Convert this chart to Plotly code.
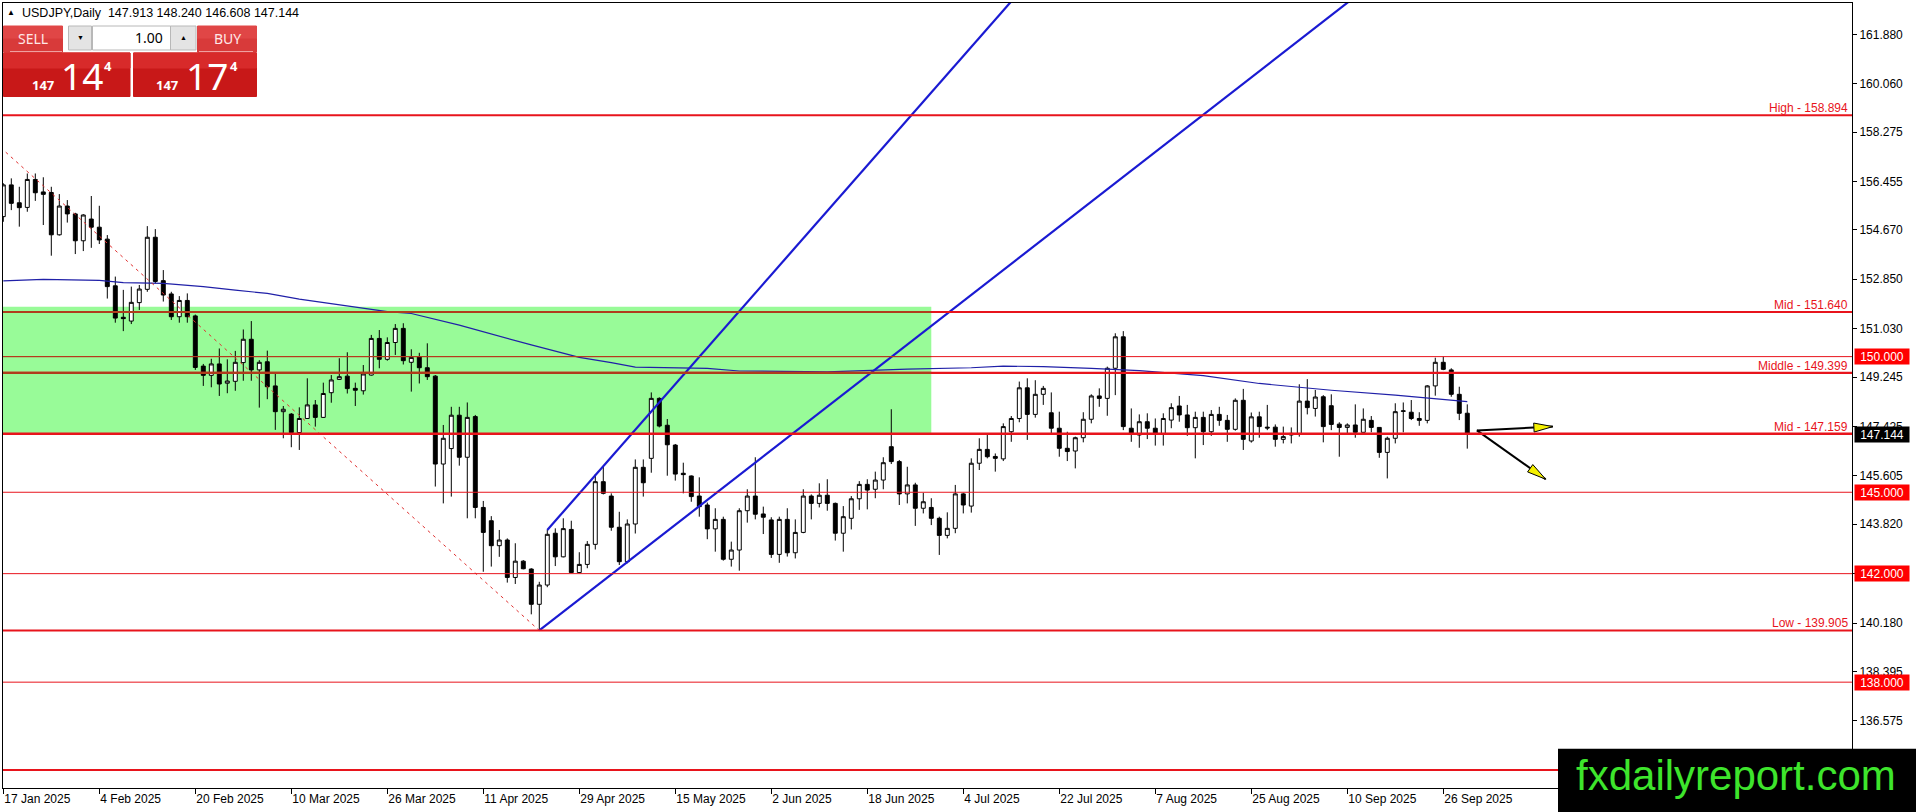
import math
import plotly.graph_objects as go

# ---- daily candles, 17 Jan 2025 .. 1 Oct 2025 (bar index 0..183) ----
opens = [155.16, 156.33, 155.67, 155.50, 156.53, 156.07, 156.05, 154.49, 155.55, 155.26,
         154.27, 155.07, 154.77, 154.33, 152.61, 151.45, 151.31, 151.99, 152.48, 154.40,
         152.80, 152.31, 151.47, 152.07, 151.50, 149.65, 149.31, 149.73, 149.02, 149.09,
         149.78, 150.64, 149.51, 149.81, 148.92, 147.97, 147.88, 147.20, 147.72, 148.22,
         147.76, 148.67, 149.16, 149.28, 148.83, 148.74, 149.32, 150.67, 149.90, 150.52,
         151.04, 149.79, 150.00, 149.59, 149.28, 146.04, 146.61, 147.84, 146.29, 147.79,
         144.44, 143.95, 143.03, 143.24, 141.86, 142.46, 142.17, 140.87, 141.58, 143.49,
         142.62, 143.63, 142.04, 142.34, 143.08, 145.39, 144.86, 143.71, 142.44, 143.83,
         145.92, 146.25, 148.46, 147.47, 146.74, 145.70, 145.60, 144.86, 144.53, 143.65,
         144.00, 142.53, 142.87, 144.32, 144.86, 144.20, 143.98, 142.71, 144.00, 142.77,
         143.52, 144.86, 144.59, 144.89, 144.59, 143.49, 144.04, 144.76, 145.29, 145.11,
         145.45, 146.68, 146.13, 144.94, 145.27, 144.41, 144.44, 144.04, 143.41, 143.67,
         144.94, 144.49, 146.07, 146.58, 146.32, 146.23, 147.23, 147.72, 148.85, 147.87,
         148.61, 147.93, 147.36, 146.62, 146.52, 147.01, 147.69, 148.55, 148.46, 149.57,
         150.73, 147.36, 147.11, 147.60, 147.36, 147.13, 147.66, 148.18, 147.85, 147.38,
         147.76, 147.23, 147.87, 147.65, 147.32, 148.39, 146.89, 147.78, 147.40, 147.40,
         146.95, 147.11, 147.15, 148.36, 148.09, 148.52, 148.19, 147.51, 147.39, 147.48,
         147.21, 147.65, 147.39, 146.47, 146.99, 147.98, 147.95, 147.72, 147.65, 148.92,
         149.79, 149.51, 148.61, 147.913]
highs = [156.39, 156.57, 156.26, 156.75, 156.75, 156.61, 156.26, 155.99, 155.77, 155.30,
         155.25, 155.92, 155.56, 154.48, 152.95, 152.46, 152.58, 152.64, 154.81, 154.70,
         153.19, 152.39, 152.23, 152.33, 151.55, 149.73, 149.92, 150.30, 149.90, 150.21,
         151.00, 151.31, 149.87, 150.22, 149.38, 148.18, 147.92, 148.13, 149.20, 148.40,
         149.04, 149.32, 149.94, 150.16, 149.04, 149.69, 150.80, 150.98, 150.71, 151.20,
         151.23, 150.27, 150.14, 150.49, 149.32, 147.48, 148.15, 148.15, 148.31, 147.85,
         144.68, 144.12, 143.61, 143.30, 143.12, 142.50, 142.20, 141.70, 143.61, 143.67,
         144.04, 143.95, 142.79, 143.20, 145.67, 145.94, 144.96, 144.28, 144.00, 146.21,
         146.21, 148.68, 148.50, 147.70, 146.78, 146.09, 145.62, 145.55, 144.62, 144.41,
         144.10, 143.18, 144.41, 145.11, 146.29, 144.47, 144.08, 144.10, 144.41, 144.00,
         145.11, 144.92, 145.33, 145.48, 144.62, 144.49, 144.86, 145.41, 145.48, 145.76,
         146.29, 148.06, 146.19, 145.94, 145.35, 144.98, 144.78, 144.10, 144.26, 145.27,
         144.98, 146.25, 146.99, 147.17, 146.43, 147.54, 147.81, 149.08, 149.20, 149.13,
         148.92, 148.68, 147.97, 147.23, 147.05, 147.95, 148.61, 148.83, 149.63, 150.86,
         150.94, 148.09, 147.87, 147.91, 147.72, 147.91, 148.28, 148.55, 148.22, 147.97,
         147.97, 148.03, 148.15, 147.85, 148.46, 148.81, 147.94, 147.97, 148.22, 147.50,
         147.42, 147.39, 148.98, 149.17, 148.77, 148.58, 148.61, 147.58, 147.54, 148.24,
         148.09, 147.81, 147.40, 147.05, 148.28, 148.31, 148.40, 147.95, 148.95, 149.96,
         150.00, 149.57, 148.89, 148.240]
lows = [154.97, 155.40, 154.79, 155.34, 155.74, 154.85, 153.72, 154.46, 154.94, 153.78,
        153.89, 154.01, 154.15, 152.14, 151.25, 150.94, 151.20, 151.72, 152.39, 152.70,
        152.03, 151.35, 151.25, 151.25, 149.51, 148.92, 148.87, 148.55, 148.65, 148.74,
        149.11, 149.11, 148.12, 148.43, 147.30, 146.99, 146.66, 146.56, 147.70, 147.42,
        147.74, 148.30, 149.14, 148.64, 148.18, 148.60, 149.30, 149.57, 149.85, 150.06,
        149.71, 148.71, 149.01, 149.14, 145.21, 144.59, 144.84, 145.98, 144.04, 144.04,
        142.07, 142.26, 142.62, 141.67, 141.62, 142.16, 140.50, 139.905, 141.50, 142.28,
        142.60, 142.02, 142.02, 142.20, 142.89, 144.92, 143.58, 142.32, 142.38, 143.48,
        144.84, 145.72, 147.39, 145.61, 145.43, 144.96, 144.65, 144.10, 143.27, 142.81,
        142.48, 142.26, 142.11, 143.88, 144.00, 143.46, 142.58, 142.40, 142.63, 142.56,
        143.49, 144.00, 144.44, 144.32, 143.22, 142.81, 143.63, 144.35, 144.37, 144.78,
        145.11, 146.04, 144.53, 144.59, 143.76, 144.22, 143.79, 142.69, 143.30, 143.49,
        144.22, 144.25, 145.82, 146.25, 145.76, 146.15, 146.86, 147.58, 146.93, 147.75,
        148.22, 147.11, 146.31, 146.15, 145.88, 146.84, 147.54, 148.15, 147.82, 148.58,
        147.29, 146.86, 146.64, 146.96, 146.72, 146.72, 147.36, 147.60, 147.08, 146.25,
        146.74, 147.08, 147.45, 146.86, 147.27, 146.56, 146.83, 147.01, 147.29, 146.68,
        146.80, 146.80, 147.05, 147.87, 147.79, 146.84, 147.29, 146.31, 147.13, 147.01,
        147.21, 147.21, 146.27, 145.51, 146.80, 147.21, 147.66, 147.45, 147.54, 148.56,
        149.50, 148.52, 147.66, 146.608]
closes = [156.33, 155.65, 155.49, 156.53, 156.04, 155.98, 154.49, 155.55, 155.26, 154.27,
          155.22, 154.77, 154.30, 152.58, 151.42, 151.40, 152.00, 152.49, 154.40, 152.77,
          152.27, 151.47, 152.07, 151.47, 149.60, 149.31, 149.73, 148.99, 149.10, 149.79,
          150.64, 149.51, 149.79, 148.89, 147.97, 148.06, 147.20, 147.72, 148.22, 147.76,
          148.64, 149.14, 149.26, 148.82, 148.76, 149.36, 150.67, 149.90, 150.52, 151.04,
          149.85, 149.97, 149.59, 149.26, 146.04, 146.99, 147.84, 146.29, 147.76, 144.44,
          143.52, 143.03, 143.24, 141.86, 142.46, 142.18, 140.87, 141.58, 143.45, 142.62,
          143.66, 142.04, 142.34, 143.08, 145.39, 144.96, 143.71, 142.44, 143.83, 145.92,
          145.35, 148.46, 147.44, 146.75, 145.67, 145.65, 144.84, 144.47, 143.65, 144.00,
          142.53, 142.87, 144.32, 144.86, 144.19, 144.08, 142.71, 144.00, 142.77, 143.52,
          144.86, 144.59, 144.89, 144.59, 143.49, 144.10, 144.76, 145.29, 145.08, 145.45,
          146.09, 146.13, 144.94, 145.27, 144.41, 144.65, 144.04, 143.41, 143.67, 144.94,
          144.53, 146.07, 146.58, 146.31, 146.25, 147.42, 147.72, 148.85, 147.87, 148.61,
          148.83, 147.36, 146.62, 146.50, 147.01, 147.69, 148.55, 148.46, 149.57, 150.73,
          147.42, 147.13, 147.60, 147.36, 147.13, 147.72, 148.12, 147.85, 147.38, 147.76,
          147.23, 147.87, 147.65, 147.32, 148.39, 146.95, 147.78, 147.42, 147.37, 146.95,
          147.05, 147.17, 148.36, 148.12, 148.51, 147.42, 147.50, 147.39, 147.48, 147.21,
          147.69, 147.39, 146.47, 146.99, 147.97, 148.00, 147.72, 147.65, 148.92, 149.79,
          149.53, 148.61, 147.91, 147.144]
bars = list(range(len(closes)))

date_bars = [0, 12, 24, 36, 48, 60, 72, 84, 96, 108, 120, 132, 144, 156, 168, 180]
date_labels = ["17 Jan 2025", "4 Feb 2025", "20 Feb 2025", "10 Mar 2025", "26 Mar 2025",
               "11 Apr 2025", "29 Apr 2025", "15 May 2025", "2 Jun 2025", "18 Jun 2025",
               "4 Jul 2025", "22 Jul 2025", "7 Aug 2025", "25 Aug 2025", "10 Sep 2025",
               "26 Sep 2025"]
price_ticks = [161.880, 160.060, 158.275, 156.455, 154.670, 152.850, 151.030, 149.245,
               147.425, 145.605, 143.820, 142.000, 140.180, 138.395, 136.575]

# moving average, read at a few bars
ma_bars = [0, 5, 12, 15, 20, 25, 29, 33, 37, 48, 51, 57, 66, 72, 76, 79, 88, 92, 103,
           113, 121, 125, 130, 136, 142, 146, 150, 157, 166, 174, 183]
ma_vals = [152.79, 152.85, 152.81, 152.73, 152.70, 152.58, 152.45, 152.33, 152.12, 151.66,
           151.59, 151.16, 150.43, 149.97, 149.78, 149.61, 149.57, 149.47, 149.44, 149.54,
           149.59, 149.65, 149.63, 149.57, 149.48, 149.38, 149.30, 149.01, 148.76, 148.58,
           148.34]

# drawn objects
levels = [158.894, 151.640, 150.000, 149.399, 147.159, 145.000, 142.000, 139.905, 138.000, 134.76]
level_text = ["High - 158.894", "Mid - 151.640", "", "Middle - 149.399", "Mid - 147.159",
              "", "", "Low - 139.905", "", ""]
axis_boxes = [150.000, 145.000, 142.000, 138.000]
zone_bars = [-1, 116]
zone_prices = [147.159, 151.84]
steep_x = [68, 127]
steep_y = [143.61, 163.43]
shallow_x = [67, 170]
shallow_y = [139.905, 163.50]
dotted_x = [-1, 67]
dotted_y = [157.88, 139.905]
arrow_start = [184.2, 147.28]
arrow_tip_x = [193.7, 192.8]
arrow_tip_y = [147.42, 145.48]
last_price = 147.144

# ---- geometry of the page ----
W, H = 1916, 812
L, R, T, B = 3, 1852, 3, 788
x_range = [-0.0375, 231.09]
y_range = [134.099, 163.034]
xs = (R - L) / (x_range[1] - x_range[0])
ys = (B - T) / (y_range[1] - y_range[0])


def pxx(x):
    return (x - L) / (R - L)


def pxy(y):
    return 1 - (y - T) / (B - T)


FONT = "Liberation Sans"
RED = "#e8141c"

fig = go.Figure()

fig.add_trace(go.Candlestick(
    x=bars, open=opens, high=highs, low=lows, close=closes,
    increasing=dict(line=dict(color="black", width=1), fillcolor="white"),
    decreasing=dict(line=dict(color="black", width=1), fillcolor="black"),
    whiskerwidth=0, hoverinfo="skip", showlegend=False))

fig.add_trace(go.Scatter(x=ma_bars, y=ma_vals, mode="lines",
                         line=dict(color="#2020a8", width=1.2),
                         hoverinfo="skip", showlegend=False))

fig.add_trace(go.Scatter(x=dotted_x, y=dotted_y, mode="lines",
                         line=dict(color="#e03030", width=1, dash="3px,4px"),
                         hoverinfo="skip", showlegend=False))

for lx, ly in [(steep_x, steep_y), (shallow_x, shallow_y)]:
    fig.add_trace(go.Scatter(x=lx, y=ly, mode="lines",
                             line=dict(color="#1a1ad2", width=2.2),
                             hoverinfo="skip", showlegend=False))

# arrows: black shaft + yellow head
for tx, ty in zip(arrow_tip_x, arrow_tip_y):
    sx, sy = arrow_start
    fig.add_trace(go.Scatter(x=[sx, tx], y=[sy, ty], mode="lines",
                             line=dict(color="black", width=2),
                             hoverinfo="skip", showlegend=False))
    dx, dy = (tx - sx) * xs, (ty - sy) * ys
    n = math.hypot(dx, dy)
    ux, uy = dx / n, dy / n
    hl, hw = 19, 4.5
    pts = [(0, 0), (-ux * hl - uy * hw, -uy * hl + ux * hw), (-ux * hl + uy * hw, -uy * hl - ux * hw), (0, 0)]
    fig.add_trace(go.Scatter(x=[tx + p[0] / xs for p in pts], y=[ty + p[1] / ys for p in pts],
                             mode="lines", fill="toself", fillcolor="#f4f000",
                             line=dict(color="black", width=1),
                             hoverinfo="skip", showlegend=False))

shapes = [dict(type="rect", xref="x", yref="y", x0=zone_bars[0], x1=zone_bars[1],
               y0=zone_prices[0], y1=zone_prices[1], fillcolor="#98fb98",
               line=dict(width=0), layer="below")]
thick = {158.894: 2, 151.640: 2, 149.399: 2.2, 147.159: 2.6, 139.905: 2, 134.76: 2}
for lv in levels:
    shapes.append(dict(type="line", xref="paper", yref="y", x0=0, x1=1, y0=lv, y1=lv,
                       line=dict(color=RED, width=thick.get(lv, 1)), layer="above"))
    if zone_prices[0] + 0.1 < lv < zone_prices[1]:
        shapes.append(dict(type="line", xref="x", yref="y", x0=x_range[0], x1=zone_bars[1],
                           y0=lv, y1=lv, line=dict(color="#b03c1c", width=thick.get(lv, 1)),
                           layer="above"))

# trading panel (top-left)
def box(x0, y0, x1, y1, fill, border=None):
    shapes.append(dict(type="rect", xref="paper", yref="paper",
                       x0=pxx(x0), x1=pxx(x1), y0=pxy(y1), y1=pxy(y0), fillcolor=fill,
                       line=dict(color=border or fill, width=1), layer="above"))


box(3.5, 26, 62.5, 52, "#e04646")
box(3.5, 39, 62.5, 52, "#d83a3a")
box(197.5, 26, 256.5, 52, "#e04646")
box(197.5, 39, 256.5, 52, "#d83a3a")
box(68.5, 26, 91.5, 50, "#e4e4e4", "#b8b8b8")
box(92.5, 26, 170.5, 50, "#ffffff", "#b8b8b8")
box(170.5, 26, 196, 50, "#e4e4e4", "#b8b8b8")
box(3.5, 53, 130, 96.5, "#c81818")
box(3.5, 53, 130, 68, "#d82a2a")
box(133.5, 53, 256.5, 96.5, "#c81818")
box(133.5, 53, 256.5, 68, "#d82a2a")
shapes.append(dict(type="line", xref="paper", yref="paper", x0=pxx(10), x1=pxx(62),
                   y0=pxy(51.5), y1=pxy(51.5), line=dict(color="#f0a0a0", width=1), layer="above"))
shapes.append(dict(type="line", xref="paper", yref="paper", x0=pxx(199), x1=pxx(253),
                   y0=pxy(51.5), y1=pxy(51.5), line=dict(color="#f0a0a0", width=1), layer="above"))

# watermark
shapes.append(dict(type="rect", xref="paper", yref="paper", x0=pxx(1558), x1=pxx(1920),
                   y0=pxy(815), y1=pxy(748.7), fillcolor="black", line=dict(width=0), layer="above"))

ann = []


def text(x, y, s, size, color="black", anchor="left", family=FONT, bold=False):
    ann.append(dict(xref="paper", yref="paper", x=pxx(x), y=pxy(y), text=f"<b>{s}</b>" if bold else s,
                    showarrow=False, xanchor=anchor, yanchor="middle",
                    font=dict(size=size, color=color, family=family)))


text(5, 13, "▲", 8)
text(20, 13, "USDJPY,Daily\u00a0\u00a0147.913\u00a0148.240\u00a0146.608\u00a0147.144", 12.5)
text(33, 39, "SELL", 14, "#ffe8e8", "center", "Noto Sans")
text(227, 39, "BUY", 14, "#ffe8e8", "center", "Noto Sans")
text(80, 38, "▼", 7, anchor="center")
text(183.3, 38, "▲", 7, anchor="center")
text(165, 38, "1.00", 14, anchor="right", family="Noto Sans")
text(42.5, 85, "147", 13, "white", "center", "Noto Sans", True)
text(81.5, 76, "14", 37, "white", "center", "Noto Sans")
text(108, 66, "4", 13, "white", "center", "Noto Sans", True)
text(167, 85, "147", 13, "white", "center", "Noto Sans", True)
text(206.5, 76, "17", 37, "white", "center", "Noto Sans")
text(234, 66, "4", 13, "white", "center", "Noto Sans", True)
text(1736, 775, "fxdailyreport.com", 42, "#3ee52c", "center")

for lv, s in zip(levels, level_text):
    if s:
        ann.append(dict(xref="paper", yref="y", x=pxx(1850), y=lv, text=s, showarrow=False,
                        xanchor="right", yanchor="bottom", yshift=-2,
                        font=dict(size=12, color=RED, family=FONT)))
for lv in axis_boxes:
    ann.append(dict(xref="paper", yref="y", x=pxx(1854), y=lv, text=f"{lv:.3f}", showarrow=False,
                    xanchor="left", yanchor="middle", bgcolor="#ff0000", width=52, height=13,
                    font=dict(size=12, color="white", family=FONT)))
ann.append(dict(xref="paper", yref="y", x=pxx(1854), y=last_price, text=f"{last_price:.3f}",
                showarrow=False, xanchor="left", yanchor="middle", bgcolor="black", width=52,
                height=13, font=dict(size=12, color="white", family=FONT)))

fig.update_layout(
    width=W, height=H, autosize=False,
    margin=dict(l=L, r=W - R, t=T, b=H - B, pad=0),
    paper_bgcolor="white", plot_bgcolor="white",
    font=dict(family=FONT, size=12, color="black"),
    showlegend=False, hovermode=False,
    shapes=shapes, annotations=ann,
    xaxis=dict(range=x_range, rangeslider=dict(visible=False), showgrid=False, zeroline=False,
               showline=True, mirror=True, linecolor="black", linewidth=1,
               tickmode="array", tickvals=date_bars, ticktext=date_labels,
               ticks="outside", ticklen=5, tickcolor="black", ticklabelposition="outside right",
               tickfont=dict(size=12, family=FONT, color="black")),
    yaxis=dict(range=y_range, side="right", showgrid=False, zeroline=False,
               showline=True, mirror=True, linecolor="black", linewidth=1,
               tickmode="array", tickvals=price_ticks, ticktext=[f"{v:.3f}" for v in price_ticks],
               ticks="outside", ticklen=4, tickcolor="black",
               tickfont=dict(size=12, family=FONT, color="black")),
)

fig.write_html("out.html", config={"displayModeBar": False},
               post_script="document.body.style.margin='0';document.body.style.overflow='hidden';")
